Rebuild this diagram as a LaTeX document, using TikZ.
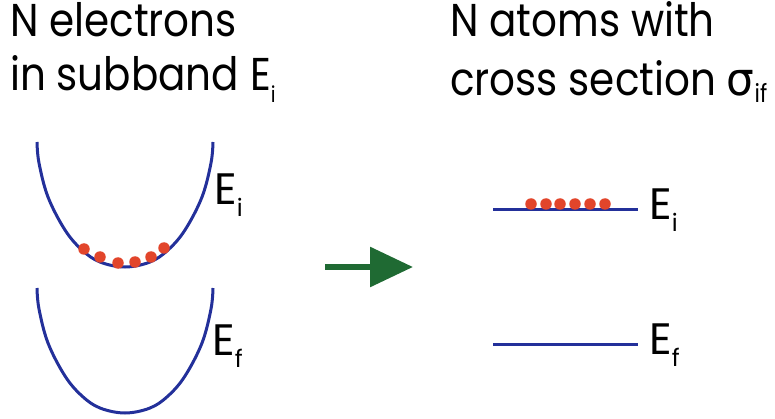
\documentclass[tikz,border=0pt]{standalone}
\usepackage{fontspec}
\setmainfont[FakeStretch=0.88]{Poppins}
\newfontfamily\labelfont{Poppins}
\newfontfamily\greekfont[FakeStretch=0.95]{DejaVu Sans}
\usetikzlibrary{arrows.meta}
\definecolor{curveblue}{HTML}{23309A}
\definecolor{dotred}{HTML}{E2452B}
\definecolor{arrowgreen}{HTML}{1F6A33}
\newcommand{\lowsub}[3]{\raisebox{-#1pt}{\fontsize{#2}{#2}\selectfont #3}}
\tikzset{
  heading/.style={anchor=base west, inner sep=0pt, font=\fontsize{46}{54}\selectfont},
  elabel/.style={anchor=base west, inner sep=0pt, font=\labelfont\fontsize{44}{54}\selectfont},
  band/.style={draw=curveblue, line width=3pt},
  electron/.style={circle, fill=dotred, minimum size=11.5pt, inner sep=0pt},
  bigarrow/.style={draw=arrowgreen, fill=arrowgreen, line width=6pt, -{Triangle[length=43pt,width=39pt]}}
}
\begin{document}
\begin{tikzpicture}[x=1pt,y=-1pt]
\useasboundingbox (0,0) rectangle (775,419);
% headings
\node[heading] (h1) at (10,37) {N electrons};
\node[heading] (h2) at (10,91) {in subband E\lowsub{12}{22}{i}};
\node[heading] (h3) at (450,37) {N atoms with};
\node[heading] (h4) at (450,96) {cross section {\greekfont σ}\lowsub{7}{25}{if}};
% left subbands
\draw[band] plot[smooth, tension=0.6] coordinates {(37,142) (39,163) (48,197) (65,230) (82,250) (100,262) (125,267) (150,262) (168,250) (185,230) (202,197) (211,163) (213,142)};
\draw[band] plot[smooth, tension=0.6] coordinates {(37,288) (39,309) (48,343) (65,376) (82,396) (100,408) (125,413) (150,408) (168,396) (185,376) (202,343) (211,309) (213,288)};
\node[elabel] (lei) at (214,205) {E\lowsub{12}{24}{i}};
\node[elabel] (lef) at (212,355) {E\lowsub{12}{24}{f}};
% electrons in subband
\foreach \x/\y [count=\k] in {84/249,100/257,118/263,135/262,151/257,164/248}
  \node[electron] (le\k) at (\x,\y) {};
% arrow
\coordinate (a1) at (325,267);
\coordinate (a2) at (413,267);
\draw[bigarrow] (a1) -- (a2);
% right levels
\coordinate (ri1) at (493,210);
\coordinate (ri2) at (638,210);
\coordinate (rf1) at (493,344);
\coordinate (rf2) at (638,344);
\draw[band] (ri1) -- (ri2);
\draw[band] (rf1) -- (rf2);
\foreach \x [count=\k] in {531,546,560,575,590,605}
  \node[electron] (re\k) at (\x,204) {};
\node[elabel] (rei) at (649,220) {E\lowsub{12}{24}{i}};
\node[elabel] (ref) at (649,354) {E\lowsub{12}{24}{f}};
\end{tikzpicture}
\end{document}
